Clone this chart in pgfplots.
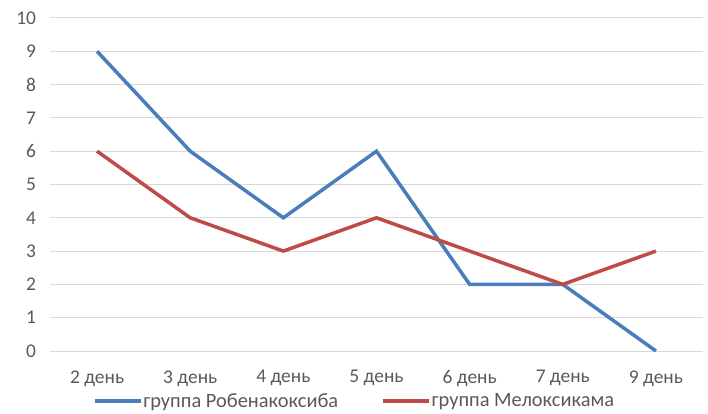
\documentclass[border=0pt]{standalone}
\usepackage{fontspec}
\setmainfont{Carlito}
\usepackage{pgfplots}
\pgfplotsset{compat=1.18}

\definecolor{serblue}{HTML}{4A7EBB}
\definecolor{serred}{HTML}{BE4B48}
\definecolor{gridgray}{HTML}{D9D9D9}
\definecolor{txtgray}{HTML}{595959}

\begin{document}
\begin{tikzpicture}
  \begin{axis}[
      scale only axis,
      width=652bp, height=333bp,
      xmin=-0.5, xmax=6.5,
      ymin=0, ymax=10,
      xtick={0,...,6},
      xticklabels={2 день,3 день,4 день,5 день,6 день,7 день,9 день},
      ytick={0,...,10},
      axis line style={draw=none},
      major tick length=0pt,
      ymajorgrids,
      grid style={gridgray, line width=1bp},
      tick label style={font=\fontsize{19.5}{22}\selectfont, text=txtgray},
      /pgf/number format/assume math mode=true,
      yticklabel style={xshift=-11bp},
      xticklabel style={yshift=-16bp},
      legend columns=2,
      legend style={draw=none, fill=none, at={(0.4655,-0.15)}, anchor=center,
        font=\fontsize{20.5}{23}\selectfont, text=txtgray,
        nodes={inner xsep=1bp},
        /tikz/every even column/.append style={column sep=42bp}},
      legend image code/.code={\draw[#1, line width=3.5bp] (0bp,0bp) -- (46bp,0bp);},
    ]
    \addplot[serblue, line width=3.5bp] coordinates {(0,9) (1,6) (2,4) (3,6) (4,2) (5,2) (6,0)};
    \addlegendentry{группа Робенакоксиба}
    \addplot[serred, line width=3.5bp] coordinates {(0,6) (1,4) (2,3) (3,4) (4,3) (5,2) (6,3)};
    \addlegendentry{группа Мелоксикама}
  \end{axis}
  \pgfresetboundingbox
  \path[use as bounding box] (-50.5bp,-63bp) rectangle (657.5bp,351bp);
\end{tikzpicture}
\end{document}
